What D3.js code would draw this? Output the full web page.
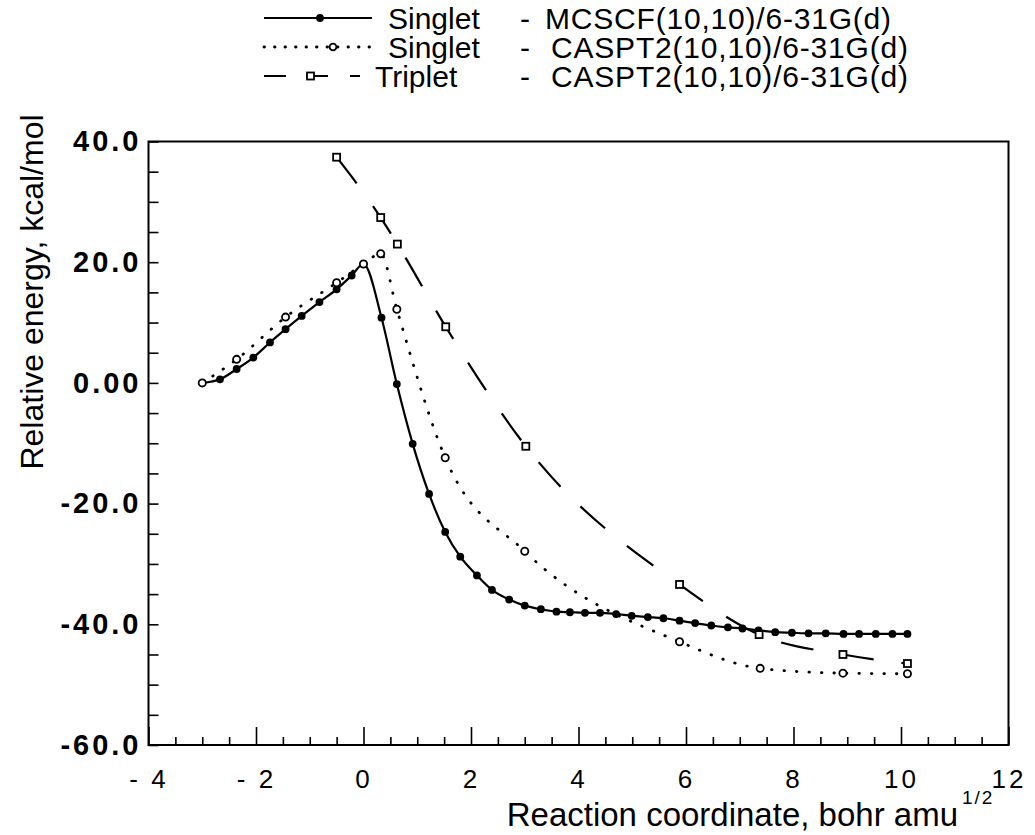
<!DOCTYPE html>
<html>
<head>
<meta charset="utf-8">
<script src="https://cdn.jsdelivr.net/npm/d3@7/dist/d3.min.js"></script>
<style>
  body { margin: 0; background: #fff; }
  svg text { font-family: "Liberation Sans", Arial, sans-serif; fill: #000; }
</style>
</head>
<body>
<div class="svg-container"></div>
<script>
// reaction coordinate (bohr amu^1/2) and relative energy (kcal/mol)
const mcscfX = [-3.0, -2.67, -2.36, -2.05, -1.74, -1.45, -1.15, -0.82, -0.5, -0.22, 0.0, 0.335, 0.62, 0.915,
  1.22, 1.52, 1.8, 2.11, 2.39, 2.71, 3.0, 3.3, 3.59, 3.84, 4.12, 4.4, 4.7, 4.99, 5.29, 5.58, 5.88, 6.17,
  6.47, 6.78, 7.05, 7.35, 7.66, 7.97, 8.28, 8.6, 8.93, 9.22, 9.53, 9.84, 10.12];
const mcscfY = [0.0, 0.6, 2.3, 4.2, 6.7, 8.9, 11.1, 13.4, 15.5, 17.8, 19.7, 10.8, -0.2, -10.1,
  -18.4, -24.7, -28.8, -31.9, -34.3, -35.9, -36.9, -37.5, -37.9, -38.0, -38.1, -38.1, -38.3, -38.6, -38.8, -39.0, -39.4, -39.8,
  -40.2, -40.5, -40.7, -41.0, -41.3, -41.4, -41.5, -41.5, -41.6, -41.6, -41.6, -41.6, -41.6];

const caspt2X = [-3.0, -2.36, -1.45, -0.5, 0.0, 0.32, 0.62, 1.52, 3.0, 5.88, 7.38, 8.92, 10.12];
const caspt2Y = [0.0, 3.9, 10.9, 16.6, 19.7, 21.4, 12.2, -12.4, -27.9, -42.9, -47.3, -48.1, -48.2];

const tripletX = [-0.5, 0.32, 0.63, 1.53, 3.02, 5.88, 7.36, 8.92, 10.12];
const tripletY = [37.4, 27.4, 23.0, 9.3, -10.5, -33.4, -41.7, -45.0, -46.5];

const xTicks = [-4, -2, 0, 2, 4, 6, 8, 10, 12];
const xTickLabels = ["- 4", "- 2", "0", "2", "4", "6", "8", "10", "12"];
const yTicks = [-60, -40, -20, 0, 20, 40];
const yTickLabels = ["-60.0", "-40.0", "-20.0", "0.00", "20.0", "40.0"];

const legendNames = ["Singlet", "Singlet", "Triplet"];
const legendMethods = ["MCSCF(10,10)/6-31G(d)", "CASPT2(10,10)/6-31G(d)", "CASPT2(10,10)/6-31G(d)"];

let width = 1035;
let height = 835;
let svg = d3.select(".svg-container").append("svg")
  .attr("width", width).attr("height", height);

let x = d3.scaleLinear().domain([-4, 12]).range([148.5, 1008.5]);
let y = d3.scaleLinear().domain([-60, 40]).range([745, 141.5]);

// frame
svg.append("rect")
  .attr("x", x(-4)).attr("y", y(40))
  .attr("width", x(12) - x(-4)).attr("height", y(-60) - y(40))
  .attr("fill", "none").attr("stroke", "#000").attr("stroke-width", 2);

// x axis: minor ticks every 0.5, major every 2 (inward)
let xMinor = d3.range(-4, 12.01, 0.5).filter(v => v % 2 !== 0);
let xAxisMinor = d3.axisBottom(x).tickValues(xMinor).tickSize(-8).tickFormat("");
let xAxisMajor = d3.axisBottom(x).tickValues(xTicks).tickSize(-18)
  .tickFormat((d, i) => xTickLabels[i]).tickPadding(25);
let gx1 = svg.append("g").attr("transform", "translate(0," + y(-60) + ")").call(xAxisMinor);
let gx2 = svg.append("g").attr("transform", "translate(0," + y(-60) + ")").call(xAxisMajor);
[gx1, gx2].forEach(g => {
  g.select(".domain").remove();
  g.selectAll(".tick line").attr("stroke", "#000").attr("stroke-width", 1.6);
});
gx2.selectAll(".tick text")
  .attr("font-size", 26).attr("letter-spacing", "3px")
  .attr("font-family", "Liberation Sans, Arial, sans-serif").attr("fill", "#000");

// y axis: ticks every 5, labels every 20
let yAxisMinor = d3.axisLeft(y).tickValues(d3.range(-60, 40.01, 5)).tickSize(-10).tickFormat("");
let yAxisMajor = d3.axisLeft(y).tickValues(yTicks).tickSize(0)
  .tickFormat((d, i) => yTickLabels[i]).tickPadding(7);
let gy1 = svg.append("g").attr("transform", "translate(" + x(-4) + ",0)").call(yAxisMinor);
let gy2 = svg.append("g").attr("transform", "translate(" + x(-4) + ",0)").call(yAxisMajor);
[gy1, gy2].forEach(g => {
  g.select(".domain").remove();
  g.selectAll(".tick line").attr("stroke", "#000").attr("stroke-width", 1.6);
});
gy2.selectAll(".tick text")
  .attr("font-size", 29).attr("font-weight", "bold").attr("letter-spacing", "3px")
  .attr("font-family", "Liberation Sans, Arial, sans-serif").attr("fill", "#000");

// axis titles
svg.append("text")
  .attr("transform", "translate(43,292) rotate(-90)")
  .attr("text-anchor", "middle").attr("font-size", 32)
  .text("Relative energy, kcal/mol");
svg.append("text")
  .attr("x", 958).attr("y", 826).attr("text-anchor", "end").attr("font-size", 33)
  .text("Reaction coordinate, bohr amu");
svg.append("text")
  .attr("x", 962).attr("y", 804).attr("font-size", 19).attr("letter-spacing", "2px")
  .text("1/2");

// series
let toPts = (xs, ys) => xs.map((v, i) => [v, ys[i]]);
let line = d3.line().x(d => x(d[0])).y(d => y(d[1])).curve(d3.curveMonotoneX);

let mcscf = toPts(mcscfX, mcscfY);
let caspt2 = toPts(caspt2X, caspt2Y);
let triplet = toPts(tripletX, tripletY);

svg.append("path").attr("d", line(triplet)).attr("fill", "none")
  .attr("stroke", "#000").attr("stroke-width", 2.2).attr("stroke-dasharray", "33,28");
svg.append("path").attr("d", line(caspt2)).attr("fill", "none")
  .attr("stroke", "#000").attr("stroke-width", 2.8).attr("stroke-linecap", "round")
  .attr("stroke-dasharray", "0.5,12");
svg.append("path").attr("d", line(mcscf)).attr("fill", "none")
  .attr("stroke", "#000").attr("stroke-width", 2.2);

svg.selectAll("circle.mc").data(mcscf).enter().append("circle")
  .attr("class", "mc").attr("cx", d => x(d[0])).attr("cy", d => y(d[1]))
  .attr("r", 3.9).attr("fill", "#000");
svg.selectAll("rect.tr").data(triplet).enter().append("rect")
  .attr("class", "tr").attr("x", d => x(d[0]) - 3.5).attr("y", d => y(d[1]) - 3.5)
  .attr("width", 7).attr("height", 7).attr("fill", "#fff").attr("stroke", "#000").attr("stroke-width", 1.8);
svg.selectAll("circle.cp").data(caspt2).enter().append("circle")
  .attr("class", "cp").attr("cx", d => x(d[0])).attr("cy", d => y(d[1]))
  .attr("r", 3.6).attr("fill", "#fff").attr("stroke", "#000").attr("stroke-width", 1.8);

// legend
let rowY = [18, 47, 76];
let lg = svg.append("g");
lg.append("line").attr("x1", 264).attr("x2", 372).attr("y1", rowY[0]).attr("y2", rowY[0])
  .attr("stroke", "#000").attr("stroke-width", 2.2);
lg.append("circle").attr("cx", 320).attr("cy", rowY[0]).attr("r", 3.9).attr("fill", "#000");
lg.append("line").attr("x1", 264).attr("x2", 372).attr("y1", rowY[1]).attr("y2", rowY[1])
  .attr("stroke", "#000").attr("stroke-width", 2.8).attr("stroke-linecap", "round").attr("stroke-dasharray", "0.5,10");
lg.append("circle").attr("cx", 333).attr("cy", rowY[1]).attr("r", 3.4)
  .attr("fill", "#fff").attr("stroke", "#000").attr("stroke-width", 1.8);
lg.append("line").attr("x1", 264).attr("x2", 360).attr("y1", rowY[2]).attr("y2", rowY[2])
  .attr("stroke", "#000").attr("stroke-width", 2.2).attr("stroke-dasharray", "22,20,22,22,10");
lg.append("rect").attr("x", 307).attr("y", rowY[2] - 3.5).attr("width", 7).attr("height", 7)
  .attr("fill", "#fff").attr("stroke", "#000").attr("stroke-width", 1.8);

let nameX = [388, 388, 375];
let methodX = [545, 551, 551];
legendNames.forEach((n, i) => {
  lg.append("text").attr("x", nameX[i]).attr("y", rowY[i] + 11).attr("font-size", 30).text(n);
  lg.append("text").attr("x", 520).attr("y", rowY[i] + 11).attr("font-size", 30).text("-");
  lg.append("text").attr("x", methodX[i]).attr("y", rowY[i] + 11)
    .attr("font-size", 30).attr("letter-spacing", "0.8px").text(legendMethods[i]);
});
</script>
</body>
</html>
